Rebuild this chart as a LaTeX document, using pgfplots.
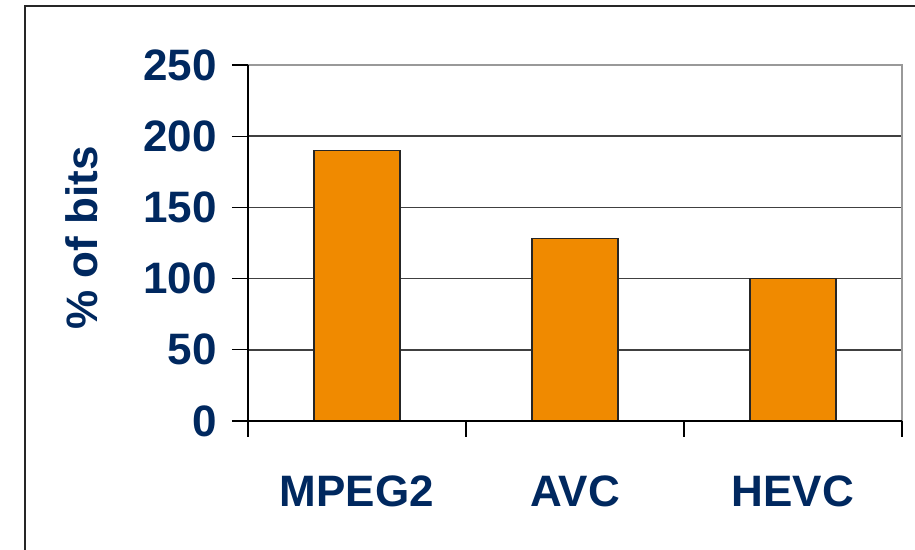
\documentclass[border=0pt]{standalone}
\usepackage{pgfplots}
\pgfplotsset{compat=1.18}
\usepackage{fontspec}
\setmainfont{Liberation Sans}
\definecolor{navy}{RGB}{0,40,95}
\definecolor{barorange}{RGB}{240,138,0}
\begin{document}
\begin{tikzpicture}[x=1pt,y=1pt]
\path[use as bounding box] (0,0) rectangle (457.5,275);
\draw[line width=1pt,black!85] (12.5,271.8) rectangle (470,-10);
\begin{axis}[
  at={(124pt,64.5pt)}, anchor=south west,
  scale only axis, width=327pt, height=178pt,
  xmin=0.5, xmax=3.5, ymin=0, ymax=250,
  xtick pos=bottom, ytick pos=left,
  ytick={0,50,100,150,200,250},
  xtick={0.5,1.5,2.5,3.5}, xticklabels={},
  extra x ticks={1,2,3},
  extra x tick labels={MPEG2,AVC,HEVC},
  extra x tick style={major tick length=0pt, tick style={draw=none},
     xtick pos=bottom, xticklabel style={yshift=-24pt}},
  tick align=outside, major tick length=8pt,
  tick style={black, line width=0.6pt},
  axis line style={draw=none},
  ymajorgrids, grid style={black!75, line width=0.75pt},
  font=\bfseries\fontsize{22}{26}\selectfont,
  ticklabel style={text=navy, font=\bfseries\fontsize{22}{26}\selectfont},
  yticklabel style={xshift=-4pt},
  /pgf/number format/assume math mode=true,
  ylabel={\% of bits},
  ylabel style={text=navy, at={(axis description cs:-0.254,0.515)}, anchor=center, font=\bfseries\fontsize{22}{26}\selectfont},
  clip=false,
]
\addplot[ybar, bar width=43pt, fill=barorange, draw=black!85, line width=0.6pt]
  coordinates {(1,190) (2,128) (3,100)};
\draw[black!40, line width=0.75pt] (rel axis cs:0,1) -- (rel axis cs:1,1) -- (rel axis cs:1,0);
\draw[black, line width=0.6pt] (rel axis cs:0,1) -- (rel axis cs:0,0) -- (rel axis cs:1,0);
\end{axis}
\end{tikzpicture}
\end{document}
